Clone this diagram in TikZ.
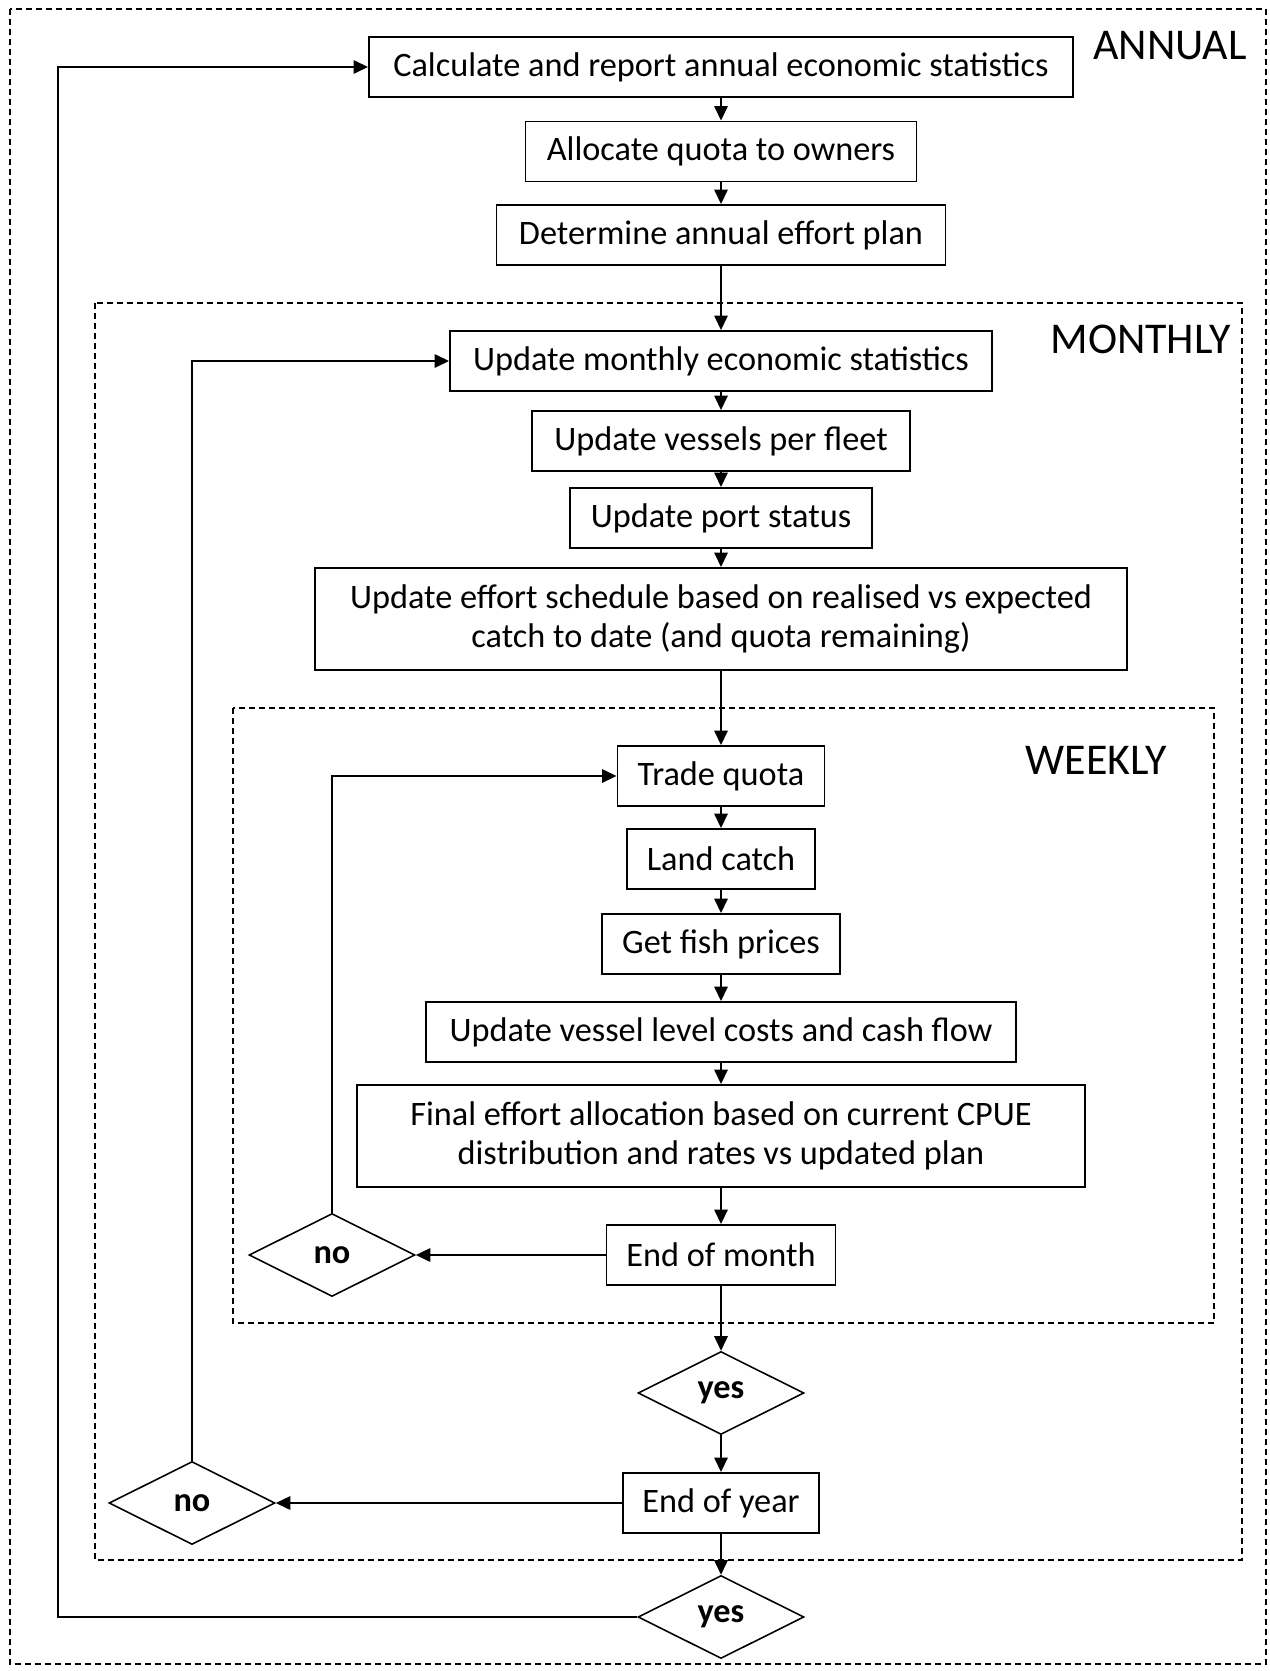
\documentclass[tikz,border=0pt]{standalone}
\usepackage{fontspec}
\setmainfont{Carlito}
\usetikzlibrary{arrows.meta,shapes.geometric}

\begin{document}
\begin{tikzpicture}[y=-1cm,
  box/.style={draw,line width=1.1pt,minimum height=1.2cm,inner sep=0pt,align=center,
    font=\fontsize{19.5}{22}\selectfont},
  choice/.style={draw,diamond,aspect=2,minimum width=3.32cm,minimum height=1.66cm,
    inner sep=0pt,line width=0.9pt,font=\bfseries\fontsize{19.5}{22}\selectfont},
  frame/.style={dash pattern=on 1.2mm off 0.8mm,line width=0.6pt},
  level/.style={anchor=east,inner sep=0pt,font=\fontsize{25}{30}\selectfont},
  flow/.style={-{Triangle[length=2.9mm,width=2.7mm]},line width=0.9pt}]
\useasboundingbox (0,0) rectangle (25.4,33.42);

\draw[frame] (0.2,0.18) rectangle (25.32,33.28);
\draw[frame] (1.90,6.06) rectangle (24.84,31.2);
\draw[frame] (4.66,14.16) rectangle (24.28,26.46);

\node[level] (annual) at (24.94,0.92) {ANNUAL};
\node[level] (monthly) at (24.62,6.78) {MONTHLY};
\node[level] (weekly) at (23.34,15.2) {WEEKLY};

\node[box,minimum width=14.08cm] (calc) at (14.42,1.34) {Calculate and report annual economic statistics};
\node[box,minimum width=7.82cm] (alloc) at (14.42,3.03) {Allocate quota to owners};
\node[box,minimum width=8.98cm] (plan) at (14.42,4.70) {Determine annual effort plan};

\node[box,minimum width=10.84cm] (updmonth) at (14.42,7.22) {Update monthly economic statistics};
\node[box,minimum width=7.56cm] (fleet) at (14.42,8.82) {Update vessels per fleet};
\node[box,minimum width=6.04cm] (port) at (14.42,10.36) {Update port status};
\node[box,minimum width=16.24cm,minimum height=2.04cm] (sched) at (14.42,12.38)
  {Update effort schedule based on realised vs expected\\catch to date (and quota remaining)};

\node[box,minimum width=4.14cm] (trade) at (14.42,15.52) {Trade quota};
\node[box,minimum width=3.76cm] (land) at (14.42,17.18) {Land catch};
\node[box,minimum width=4.76cm] (prices) at (14.42,18.88) {Get fish prices};
\node[box,minimum width=11.8cm] (costs) at (14.42,20.64) {Update vessel level costs and cash flow};
\node[box,minimum width=14.56cm,minimum height=2.04cm] (final) at (14.42,22.72)
  {Final effort allocation based on current CPUE\\distribution and rates vs updated plan};
\node[box,minimum width=4.58cm] (month) at (14.42,25.10) {End of month};
\node[choice] (no1) at (6.64,25.10) {no};

\node[choice] (yes1) at (14.42,27.86) {yes};
\node[box,minimum width=3.92cm] (year) at (14.42,30.06) {End of year};
\node[choice] (no2) at (3.84,30.06) {no};
\node[choice] (yes2) at (14.42,32.34) {yes};

\coordinate (outer) at (1.16,0);

\draw[flow] (calc) -- (alloc);
\draw[flow] (alloc) -- (plan);
\draw[flow] (plan) -- (updmonth);
\draw[flow] (updmonth) -- (fleet);
\draw[flow] (fleet) -- (port);
\draw[flow] (port) -- (sched);
\draw[flow] (sched) -- (trade);
\draw[flow] (trade) -- (land);
\draw[flow] (land) -- (prices);
\draw[flow] (prices) -- (costs);
\draw[flow] (costs) -- (final);
\draw[flow] (final) -- (month);
\draw[flow] (month) -- (no1);
\draw[flow] (no1.north) |- (trade.west);
\draw[flow] (month) -- (yes1);
\draw[flow] (yes1) -- (year);
\draw[flow] (year) -- (no2);
\draw[flow] (no2.north) |- (updmonth.west);
\draw[flow] (year) -- (yes2);
\draw[flow] (yes2.west) -- (yes2.west -| outer) |- (calc.west);

\end{tikzpicture}
\end{document}
